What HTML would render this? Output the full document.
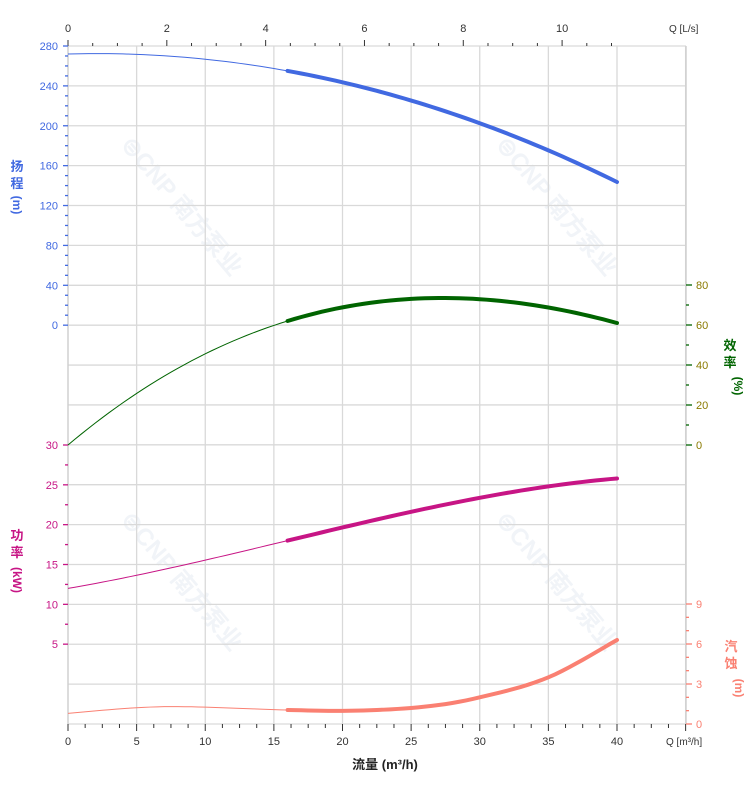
<!DOCTYPE html>
<html><head><meta charset="utf-8"><style>
html,body{margin:0;padding:0;background:#fff;width:752px;height:797px;overflow:hidden}
svg{display:block;font-family:"Liberation Sans","Noto Sans CJK SC",sans-serif}
</style></head><body>
<svg id="s" width="752" height="797" xmlns="http://www.w3.org/2000/svg"></svg>
<script>
const s=document.getElementById('s');let h='';
const X0=68,XW=13.725,Y0=46,YB=724,GH=(YB-Y0)/17;
const X=q=>X0+q*XW;
[[120,145],[495,145],[120,520],[495,520]].forEach(([x,y])=>{
 h+=`<text x="${x}" y="${y}" transform="rotate(50 ${x} ${y})" font-size="24" font-weight="bold" fill="#f1f4f8">⊜CNP 南方泵业</text>`;});
for(let i=0;i<=17;i++){const y=Y0+i*GH;h+=`<line x1="${X0}" x2="686" y1="${y}" y2="${y}" stroke="#d9d9d9" stroke-width="1.3"/>`;}
for(let i=1;i<=9;i++){const x=X(i*5);h+=`<line x1="${x}" x2="${x}" y1="${Y0}" y2="${YB}" stroke="#d9d9d9" stroke-width="1.3"/>`;}
h+=`<line x1="${X0}" x2="${X0}" y1="${Y0}" y2="${YB}" stroke="#d0d0d0" stroke-width="1.5"/>`;
h+=`<line x1="686" x2="686" y1="${Y0}" y2="${YB}" stroke="#d0d0d0" stroke-width="1.5"/>`;
for(let k=0;k<=36;k++){const q=k*1.25,x=X(q),m=k%4==0;h+=`<line x1="${x}" x2="${x}" y1="${YB}" y2="${YB+(m?7:4)}" stroke="#333"/>`;
 if(m&&q<=40)h+=`<text x="${x}" y="${YB+21}" font-size="11" fill="#333" text-anchor="middle">${q}</text>`;}
h+=`<text x="666" y="${YB+21}" font-size="10" fill="#333">Q [m³/h]</text>`;
h+=`<text x="385" y="769" font-size="13" font-weight="bold" fill="#222" text-anchor="middle">流量 (m³/h)</text>`;
for(let k=0;k<=22;k++){const l=k*0.5,x=X(l*3.6);const m=k%4==0;h+=`<line x1="${x}" x2="${x}" y1="${Y0}" y2="${Y0-(m?6:3)}" stroke="#333"/>`;
 if(m)h+=`<text x="${x}" y="${Y0-14}" font-size="11" fill="#333" text-anchor="middle">${l}</text>`;}
h+=`<text x="669" y="${Y0-14}" font-size="10" fill="#333">Q [L/s]</text>`;
for(let v=0;v<=280;v+=10){const y=Y0+(280-v)/40*GH,m=v%40==0;h+=`<line x1="${X0}" x2="${X0-(m?5:3)}" y1="${y}" y2="${y}" stroke="#4169E1" stroke-width="1.3"/>`;
 if(m)h+=`<text x="58" y="${y+4}" font-size="11" fill="#4169E1" text-anchor="end">${v}</text>`;}
const PY=v=>684-v*(684-445)/30;
for(let v=5;v<=30;v+=2.5){const y=PY(v),m=v%5==0;h+=`<line x1="${X0}" x2="${X0-(m?5:3)}" y1="${y}" y2="${y}" stroke="#C71585" stroke-width="1.3"/>`;
 if(m)h+=`<text x="58" y="${y+4}" font-size="11" fill="#C71585" text-anchor="end">${v}</text>`;}
const EY=v=>445-v*2;
for(let v=0;v<=80;v+=10){const y=EY(v),m=v%20==0;h+=`<line x1="686" x2="${686+(m?6:3)}" y1="${y}" y2="${y}" stroke="#006400" stroke-width="1.3"/>`;
 if(m)h+=`<text x="696" y="${y+4}" font-size="11" fill="#8a7a00">${v}</text>`;}
const NY=v=>724-v*120/9;
for(let v=0;v<=9;v+=1){const y=NY(v),m=v%3==0;h+=`<line x1="686" x2="${686+(m?6:3)}" y1="${y}" y2="${y}" stroke="#FA8072" stroke-width="1.3"/>`;
 if(m)h+=`<text x="696" y="${y+4}" font-size="11" fill="#FA8072">${v}</text>`;}
function vt(x,y,arr,c){arr.forEach((t,i)=>{h+=`<text x="${x}" y="${y+i*17}" font-size="13" font-weight="bold" fill="${c}" text-anchor="middle">${t}</text>`;});}
function vtr(x,y,t,c){h+=`<text x="${x}" y="${y}" font-size="12" font-weight="bold" fill="${c}" text-anchor="middle" transform="rotate(90 ${x} ${y})">${t}</text>`;}
vt(17,171,['扬','程'],'#4169E1');vtr(13,205,'(m)','#4169E1');
vt(17,540,['功','率'],'#C71585');vtr(13,580,'(kW)','#C71585');
vt(730,350,['效','率'],'#006400');vtr(734,386,'(%)','#006400');
vt(731,651,['汽','蚀'],'#FA8072');vtr(735,688,'(m)','#FA8072');
function spline(pts){const out=[];for(let i=0;i<pts.length-1;i++){const p0=pts[Math.max(0,i-1)],p1=pts[i],p2=pts[i+1],p3=pts[Math.min(pts.length-1,i+2)];
 for(let t=0;t<1;t+=0.05){const t2=t*t,t3=t2*t;const f=(a,b,c,d)=>0.5*((2*b)+(-a+c)*t+(2*a-5*b+4*c-d)*t2+(-a+3*b-3*c+d)*t3);
 out.push([f(p0[0],p1[0],p2[0],p3[0]),f(p0[1],p1[1],p2[1],p3[1])]);}}out.push(pts[pts.length-1]);return out;}
function draw(fn,c){const a=[],b=[];for(let q=0;q<=40.001;q+=0.5){const p=[X(q),fn(q)];if(q<=16)a.push(p);if(q>=16)b.push(p);}
 h+=`<polyline points="${a.map(p=>p.join(',')).join(' ')}" fill="none" stroke="${c}" stroke-width="1"/>`;
 h+=`<polyline points="${b.map(p=>p.join(',')).join(' ')}" fill="none" stroke="${c}" stroke-width="4" stroke-linecap="round"/>`;}
function lag(pts){return q=>{let s=0;for(let i=0;i<pts.length;i++){let l=pts[i][1];for(let j=0;j<pts.length;j++)if(j!=i)l*=(q-pts[j][0])/(pts[i][0]-pts[j][0]);s+=l;}return s;};}
const H=q=>272+0.37*q-0.0895*q*q;
draw(q=>Y0+(280-H(q))/40*GH,'#4169E1');
const E=lag([[0,0],[16,62],[27.5,73.5],[40,61]]);draw(q=>EY(E(q)),'#006400');
const P=lag([[0,12],[16,18],[28,22.7],[40,25.8]]);draw(q=>PY(P(q)),'#C71585');
const np=spline([[0,0.8],[7,1.3],[16,1.05],[21,1.0],[26,1.3],[30,2.0],[35,3.5],[40,6.3]]);
const N=q=>{for(let i=0;i<np.length-1;i++){if(q>=np[i][0]&&q<=np[i+1][0]){const t=(q-np[i][0])/(np[i+1][0]-np[i][0]||1);return np[i][1]+t*(np[i+1][1]-np[i][1]);}}return np[np.length-1][1];};
draw(q=>NY(N(q)),'#FA8072');
s.innerHTML=h;
</script>
</body></html>
